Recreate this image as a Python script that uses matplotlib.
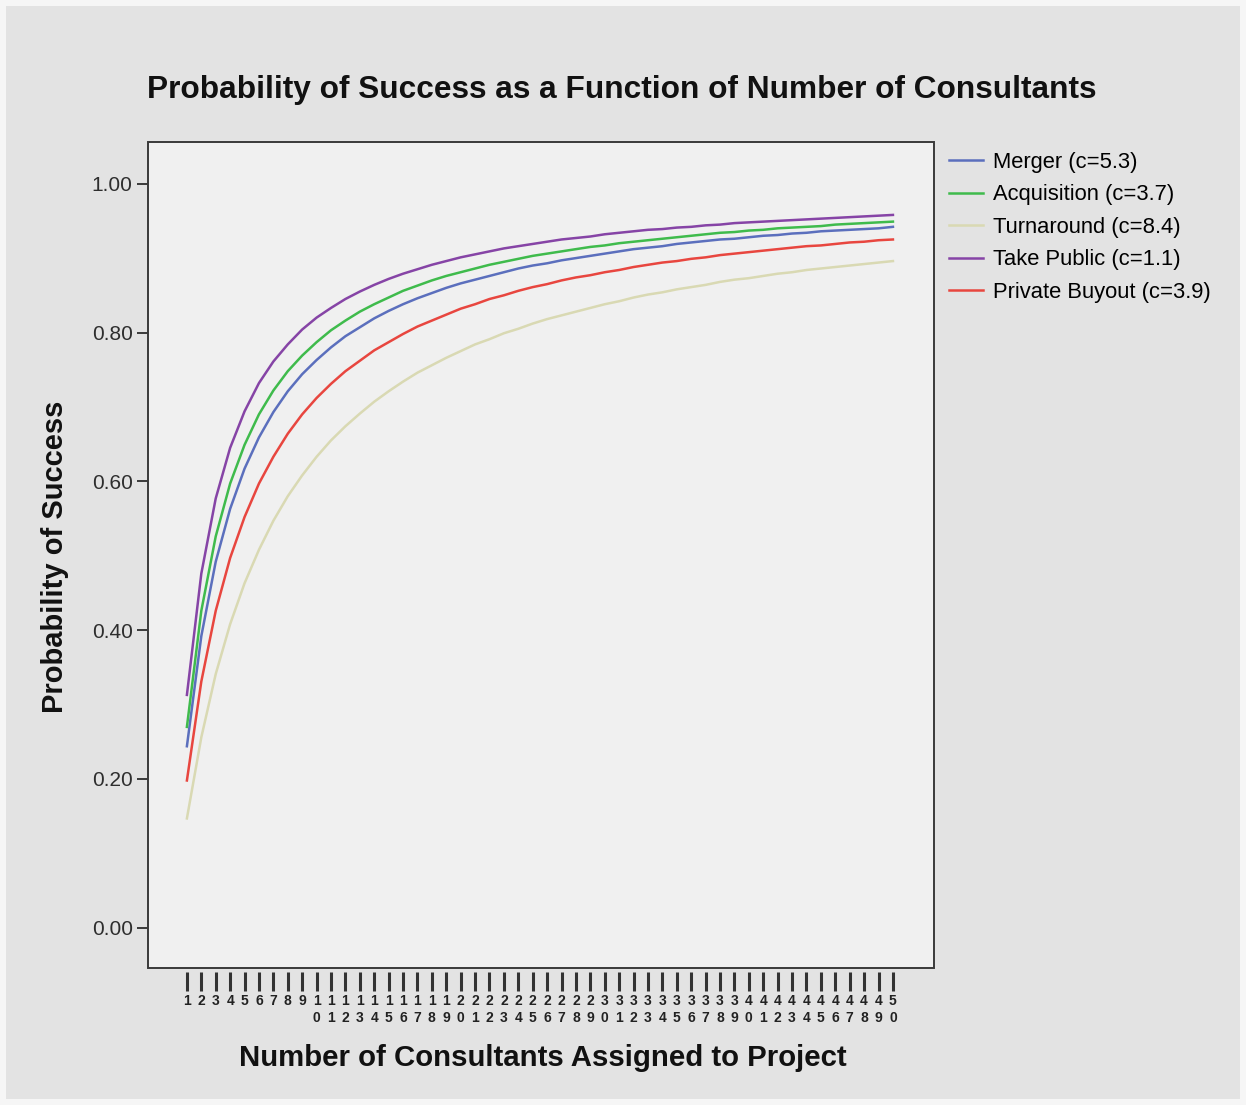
import matplotlib
matplotlib.use("Agg")
import matplotlib.pyplot as plt
import matplotlib.patches as patches

plt.rcParams['font.family'] = ['Liberation Sans', 'DejaVu Sans']

consultants = list(range(1, 51))

merger = [0.244, 0.392, 0.492, 0.563, 0.617, 0.659, 0.693, 0.721, 0.744, 0.763,
          0.780, 0.795, 0.807, 0.819, 0.829, 0.838, 0.846, 0.853, 0.860, 0.866,
          0.871, 0.876, 0.881, 0.886, 0.890, 0.893, 0.897, 0.900, 0.903, 0.906,
          0.909, 0.912, 0.914, 0.916, 0.919, 0.921, 0.923, 0.925, 0.926, 0.928,
          0.930, 0.931, 0.933, 0.934, 0.936, 0.937, 0.938, 0.939, 0.940, 0.942]
acquisition = [0.270, 0.426, 0.526, 0.597, 0.649, 0.690, 0.722, 0.748, 0.769, 0.787,
               0.803, 0.816, 0.828, 0.838, 0.847, 0.856, 0.863, 0.870, 0.876, 0.881,
               0.886, 0.891, 0.895, 0.899, 0.903, 0.906, 0.909, 0.912, 0.915, 0.917,
               0.920, 0.922, 0.924, 0.926, 0.928, 0.930, 0.932, 0.934, 0.935, 0.937,
               0.938, 0.940, 0.941, 0.942, 0.943, 0.945, 0.946, 0.947, 0.948, 0.949]
turnaround = [0.147, 0.256, 0.341, 0.408, 0.463, 0.508, 0.547, 0.580, 0.608, 0.633,
              0.655, 0.674, 0.691, 0.707, 0.721, 0.734, 0.746, 0.756, 0.766, 0.775,
              0.784, 0.791, 0.799, 0.805, 0.812, 0.818, 0.823, 0.828, 0.833, 0.838,
              0.842, 0.847, 0.851, 0.854, 0.858, 0.861, 0.864, 0.868, 0.871, 0.873,
              0.876, 0.879, 0.881, 0.884, 0.886, 0.888, 0.890, 0.892, 0.894, 0.896]
take_public = [0.313, 0.476, 0.577, 0.645, 0.694, 0.732, 0.761, 0.784, 0.804, 0.820,
               0.833, 0.845, 0.855, 0.864, 0.872, 0.879, 0.885, 0.891, 0.896, 0.901,
               0.905, 0.909, 0.913, 0.916, 0.919, 0.922, 0.925, 0.927, 0.929, 0.932,
               0.934, 0.936, 0.938, 0.939, 0.941, 0.942, 0.944, 0.945, 0.947, 0.948,
               0.949, 0.950, 0.951, 0.952, 0.953, 0.954, 0.955, 0.956, 0.957, 0.958]
private_buyout = [0.198, 0.331, 0.426, 0.497, 0.552, 0.597, 0.633, 0.664, 0.690, 0.712,
                  0.731, 0.748, 0.762, 0.776, 0.787, 0.798, 0.808, 0.816, 0.824, 0.832,
                  0.838, 0.845, 0.850, 0.856, 0.861, 0.865, 0.870, 0.874, 0.877, 0.881,
                  0.884, 0.888, 0.891, 0.894, 0.896, 0.899, 0.901, 0.904, 0.906, 0.908,
                  0.910, 0.912, 0.914, 0.916, 0.917, 0.919, 0.921, 0.922, 0.924, 0.925]

series_names = ['Merger (c=5.3)', 'Acquisition (c=3.7)', 'Turnaround (c=8.4)',
                'Take Public (c=1.1)', 'Private Buyout (c=3.9)']
series_values = [merger, acquisition, turnaround, take_public, private_buyout]
series_colors = ['#5b6fbd', '#3fbb4c', '#d9d9b3', '#8644a6', '#e8463f']

y_ticks = [0.0, 0.2, 0.4, 0.6, 0.8, 1.0]

W, H = 1246, 1105
fig = plt.figure(figsize=(W / 100, H / 100), dpi=100, facecolor='#f6f6f6')
fig.patches.append(patches.Rectangle((6 / W, 6 / H), 1 - 12 / W, 1 - 12 / H,
                                     transform=fig.transFigure, facecolor='#e3e3e3',
                                     edgecolor='none', zorder=-10))

ax = fig.add_axes([148 / W, 1 - 968 / H, (934 - 148) / W, (968 - 142) / H])
ax.set_facecolor('#f0f0f0')

for vals, name, col in zip(series_values, series_names, series_colors):
    ax.plot(consultants, vals, color=col, lw=1.8, label=name)

ax.set_xlim(-1.7, 52.85)
ax.set_ylim(-0.054, 1.056)

# frame drawn as a patch so the x ticks can sit a bit below it
for s in ax.spines.values():
    s.set_visible(False)
ax.add_patch(patches.Rectangle((0, 0), 1, 1, transform=ax.transAxes, fill=False,
                               edgecolor='#3a3a3a', lw=1.4, clip_on=False, zorder=5))
ax.spines['bottom'].set_position(('outward', 3))

ax.set_yticks(y_ticks)
ax.set_yticklabels([f"{v:.2f}" for v in y_ticks])
ax.tick_params(axis='y', direction='out', length=8, width=1.4, color='#3a3a3a',
               labelsize=15, labelcolor='#2e2e2e', pad=3)

xlabels = [str(c) if c < 10 else f"{str(c)[0]}\n{str(c)[1]}" for c in consultants]
ax.set_xticks(consultants)
ax.set_xticklabels(xlabels, fontsize=10, fontweight='bold', color='#222222', linespacing=1.25)
ax.tick_params(axis='x', direction='out', length=14, width=2.2, color='#333333', pad=2)

fig.text(622 / W, 1 - 90 / H, 'Probability of Success as a Function of Number of Consultants',
         fontsize=22.8, fontweight='bold', ha='center', va='center', color='#111111')
fig.text(55 / W, 1 - 557 / H, 'Probability of Success', rotation=90, fontsize=21,
         fontweight='bold', ha='center', va='center', color='#111111')
fig.text(543 / W, 1 - 1058 / H, 'Number of Consultants Assigned to Project', fontsize=21.2,
         fontweight='bold', ha='center', va='center', color='#111111')

fig.legend(loc='upper left', bbox_to_anchor=(949 / W, 1 - 152 / H), frameon=False,
           fontsize=15.8, handlelength=1.55, handletextpad=0.45, labelspacing=0.52,
           borderaxespad=0, borderpad=0)

fig.savefig('out.png', dpi=100, facecolor=fig.get_facecolor())
